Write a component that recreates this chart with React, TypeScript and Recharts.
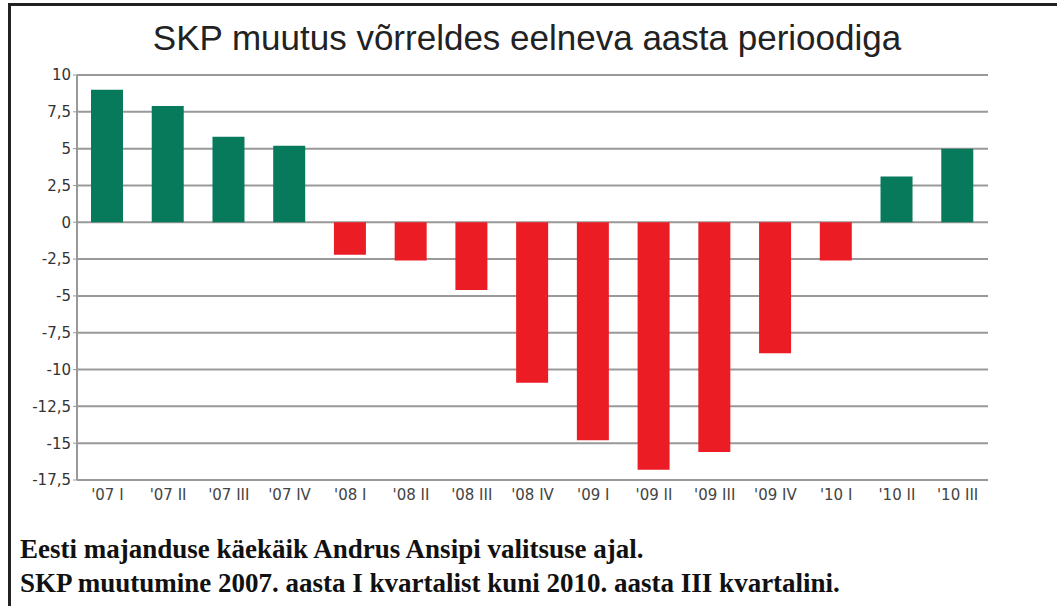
import { BarChart, Bar, XAxis, YAxis, CartesianGrid, Cell } from 'recharts';

const quarters = ["'07 I", "'07 II", "'07 III", "'07 IV", "'08 I", "'08 II", "'08 III", "'08 IV", "'09 I", "'09 II", "'09 III", "'09 IV", "'10 I", "'10 II", "'10 III"];
const gdpChange = [9.0, 7.9, 5.8, 5.2, -2.2, -2.6, -4.6, -10.9, -14.8, -16.8, -15.6, -8.9, -2.6, 3.1, 5.0];
const yTicks = [-17.5, -15, -12.5, -10, -7.5, -5, -2.5, 0, 2.5, 5, 7.5, 10];

const GREEN = '#087a5c';
const RED = '#ec1c24';

const data = quarters.map((q, i) => ({ q, value: gdpChange[i] }));

const fmt = (v: number) => String(v).replace('.', ',');

export default function App() {
    return (
        <div style={{ position: 'absolute', left: 0, top: 0, width: 1057, height: 606, background: '#fff', overflow: 'hidden' }}>
            {/* frame */}
            <div style={{ position: 'absolute', left: 8, top: 3, width: 1060, height: 620, border: '3px solid #222', boxSizing: 'border-box' }} />
            <div style={{ position: 'absolute', left: 0, top: 18, width: 1054, textAlign: 'center', fontFamily: '"Liberation Sans", Arial, sans-serif', fontSize: 35, color: '#222' }}>
                SKP muutus võrreldes eelneva aasta perioodiga
            </div>
            <div style={{ position: 'absolute', left: 0, top: 0 }}>
                <BarChart width={1057} height={515} data={data} margin={{ top: 75, right: 69, bottom: 5, left: 7 }}>
                    <CartesianGrid vertical={false} stroke="#999" strokeWidth={2} />
                    <XAxis dataKey="q" height={30} interval={0} tickLine={false} axisLine={{ stroke: '#999', strokeWidth: 2 }}
                        tick={{ fill: '#444', fontSize: 15, fontFamily: '"DejaVu Sans", Verdana, sans-serif' }} tickMargin={3} />
                    <YAxis width={70} domain={[-17.5, 10]} ticks={yTicks} interval={0} tickFormatter={fmt}
                        axisLine={{ stroke: '#999', strokeWidth: 2 }} tickLine={{ stroke: '#999' }} tickSize={4}
                        tick={{ fill: '#333', fontSize: 15, fontFamily: '"DejaVu Sans", Verdana, sans-serif' }} />
                    <Bar dataKey="value" barSize={32} isAnimationActive={false}>
                        {data.map((d, i) => (
                            <Cell key={i} fill={d.value >= 0 ? GREEN : RED} />
                        ))}
                    </Bar>
                </BarChart>
            </div>
            <div style={{ position: 'absolute', left: 20, top: 532, fontFamily: '"Liberation Serif", "Times New Roman", serif', fontWeight: 'bold', fontSize: 27, lineHeight: '34px', color: '#111' }}>
                <div>Eesti majanduse käekäik Andrus Ansipi valitsuse ajal.</div>
                <div>SKP muutumine 2007. aasta I kvartalist kuni 2010. aasta III kvartalini.</div>
            </div>
        </div>
    );
}
